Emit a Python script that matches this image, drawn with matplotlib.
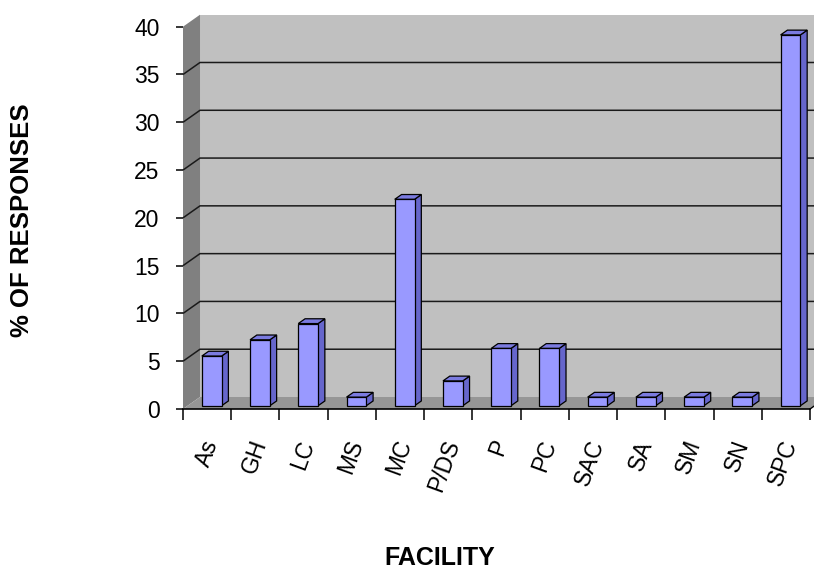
import matplotlib
matplotlib.use("Agg")
import matplotlib.pyplot as plt
from matplotlib.patches import Polygon

categories = ["As", "GH", "LC", "MS", "MC", "P/DS", "P", "PC", "SAC", "SA", "SM", "SN", "SPC"]
values = [5.2, 6.9, 8.6, 0.9, 21.6, 2.6, 6.0, 6.0, 0.9, 0.9, 0.9, 0.9, 38.8]
y_ticks = [0, 5, 10, 15, 20, 25, 30, 35, 40]
y_label = "% OF RESPONSES"
x_label = "FACILITY"

plt.rcParams['font.family'] = ['Liberation Sans', 'DejaVu Sans']

fig = plt.figure(figsize=(8.14, 5.70), dpi=100)
W, H = 814, 570
ax = fig.add_axes([183 / W, (570 - 409) / H, 627 / W, (409 - 26.7) / H])
n = len(categories)
ax.set_xlim(0, n)
ax.set_ylim(0, 40)
ax.patch.set_visible(False)

DX = 17 / 48.2      # depth offset in x data units
DY = 12 / 9.56      # depth offset in y data units
ymax = 40

wall_c = "#C0C0C0"
side_c = "#808080"
floor_c = "#969696"

# back wall
ax.add_patch(Polygon([(DX, DY), (n + DX + 1, DY), (n + DX + 1, ymax + DY), (DX, ymax + DY)],
                     closed=True, facecolor=wall_c, edgecolor="none", zorder=1, clip_on=False))
# left wall
ax.add_patch(Polygon([(0, 0), (DX, DY), (DX, ymax + DY), (0, ymax)],
                     closed=True, facecolor=side_c, edgecolor="none", zorder=1, clip_on=False))
# gridlines
for t in y_ticks[1:-1]:
    ax.plot([0, DX, n + DX + 1], [t, t + DY, t + DY], color="#1a1a1a", lw=1.1,
            zorder=2, clip_on=False, solid_capstyle="butt")
# floor
ax.add_patch(Polygon([(0, 0), (n, 0), (n + DX, DY), (DX, DY)],
                     closed=True, facecolor=floor_c, edgecolor="none", zorder=3, clip_on=False))

# bars
d = 0.27
bw = 0.41
bd = 0.4
xs = [i + 0.5 + d * DX for i in range(n)]
bars = ax.bar(xs, values, width=bw, bottom=d * DY, color="#9999FF", edgecolor="black",
              linewidth=0.9, zorder=5)
for b, v in zip(bars, values):
    x0 = b.get_x()
    x1 = x0 + bw
    y0 = d * DY
    y1 = y0 + v
    ddx, ddy = bd * DX, bd * DY
    ax.add_patch(Polygon([(x1, y0), (x1 + ddx, y0 + ddy), (x1 + ddx, y1 + ddy), (x1, y1)],
                         closed=True, facecolor="#6666CC", edgecolor="black", lw=0.9,
                         zorder=4, clip_on=False))
    ax.add_patch(Polygon([(x0, y1), (x1, y1), (x1 + ddx, y1 + ddy), (x0 + ddx, y1 + ddy)],
                         closed=True, facecolor="#7B7BE0", edgecolor="black", lw=0.9,
                         zorder=4, clip_on=False))

# floor front right slant
ax.plot([n, n + DX * 0.5], [0, DY * 0.5], color="black", lw=1.0, zorder=6, clip_on=False)

for s in ["top", "right", "left"]:
    ax.spines[s].set_visible(False)
ax.spines["bottom"].set_linewidth(1.2)
ax.spines["bottom"].set_zorder(6)

ax.set_yticks(y_ticks)
ax.set_yticklabels([str(t) for t in y_ticks], fontsize=16.5)
ax.tick_params(axis="y", length=5, width=1.1, pad=12, color="black")

ax.set_xticks(range(n + 1))
ax.set_xticklabels([])
ax.tick_params(axis="x", which="major", length=8, width=1.1, direction="out")
ax.set_xticks([i + 0.6 for i in range(n)], minor=True)
ax.set_xticklabels(categories, minor=True, fontsize=16.5, rotation=70,
                   ha="right", va="center", rotation_mode="anchor")
ax.tick_params(axis="x", which="minor", length=0, pad=23)

fig.text(22 / W, 1 - 220 / H, y_label, rotation=90, fontsize=18.5, fontweight="bold",
         ha="center", va="center")
fig.text(440 / W, 1 - 558 / H, x_label, fontsize=18, fontweight="bold",
         ha="center", va="center")

fig.savefig("out.png", dpi=100)
